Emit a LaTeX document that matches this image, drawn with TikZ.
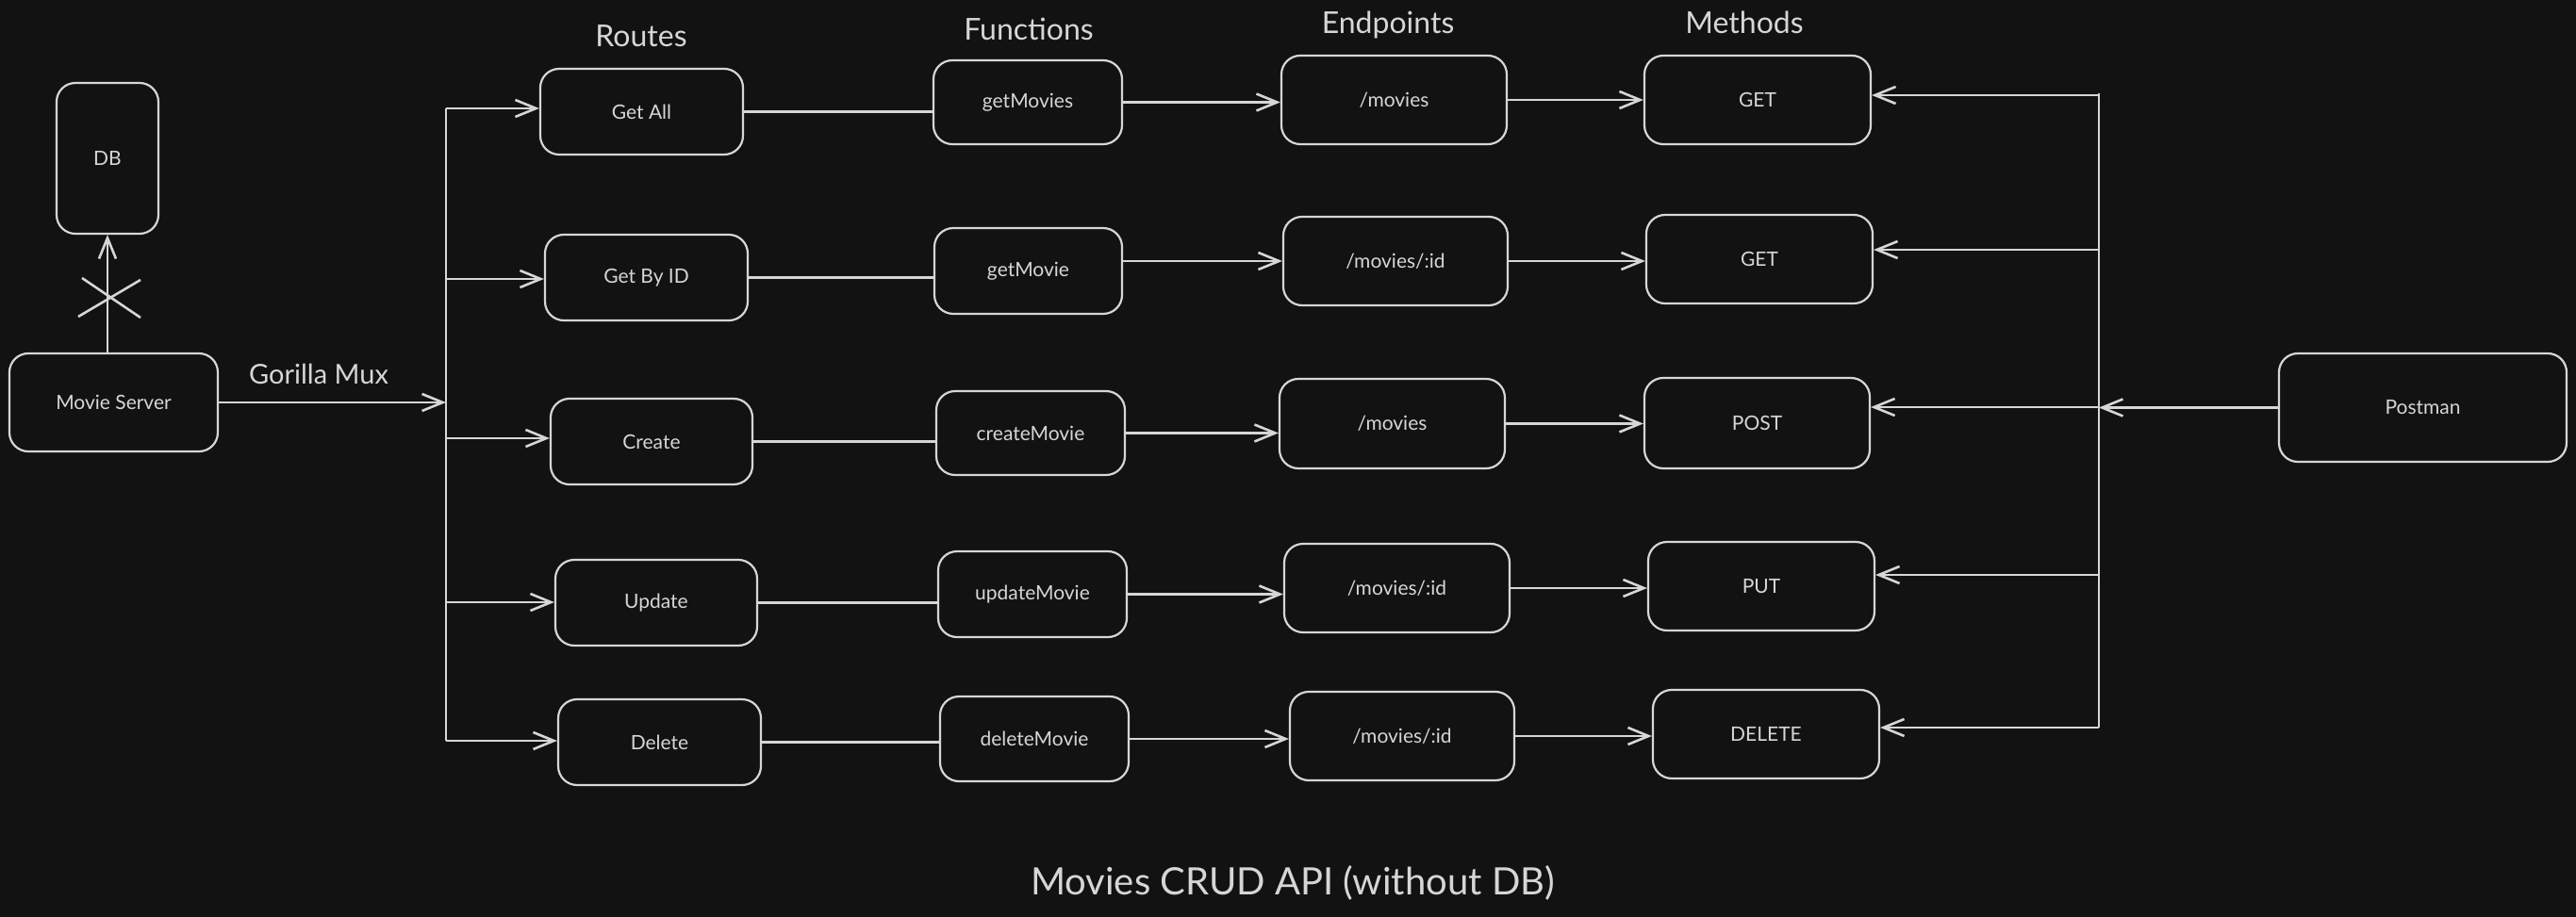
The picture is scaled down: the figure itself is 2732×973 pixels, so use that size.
\documentclass[tikz,border=0pt]{standalone}
\usepackage{fontspec}
\setmainfont{Lato}
\usetikzlibrary{arrows.meta,fit}
\definecolor{bgc}{HTML}{121212}
\definecolor{fgc}{HTML}{D6D6D6}
\tikzset{
  box/.style={draw=fgc, fill=bgc, line width=1.1pt, rounded corners=10pt, inner sep=0pt},
  lbl/.style={text=fgc, font=\fontsize{10.5}{12}\selectfont, inner sep=0pt},
  conn/.style={draw=fgc, line width=1.3pt},
  arr/.style={conn, -{Straight Barb[length=11pt,width=9pt]}},
  ttl/.style={text=fgc, font=\fontsize{16}{18}\selectfont},
}
\newcommand{\bx}[4]{\node[box, fit={#2}] (#1) {}; \node[lbl,#4] (#1t) at (#1.center) {#3};}
\begin{document}
\begin{tikzpicture}[x=0.5pt,y=-0.5pt]
\fill[bgc] (0,0) rectangle (2732,973);
\useasboundingbox (0,0) rectangle (2732,973);
% titles
\node[ttl] (tr) at (680,38) {Routes};
\node[ttl] (tf) at (1091,31) {Functions};
\node[ttl] (te) at (1472,26) {Endpoints};
\node[ttl] (tm) at (1850,24) {Methods};
\node[text=fgc, font=\fontsize{20}{24}\selectfont] (foot) at (1371,937) {Movies CRUD API (without DB)};
% left nodes
\bx{db}{(60,88)(168,248)}{DB}{}
\bx{ms}{(10,375)(231,479)}{Movie Server}{font=\fontsize{10.5}{12}\selectfont}
% routes
\bx{r1}{(573,73)(788,164)}{Get All}{}
\bx{r2}{(578,249)(793,340)}{Get By ID}{}
\bx{r3}{(584,423)(798,514)}{Create}{}
\bx{r4}{(589,594)(803,685)}{Update}{}
\bx{r5}{(592,742)(807,833)}{Delete}{}
% functions
\bx{f1}{(990,64)(1190,153)}{getMovies}{}
\bx{f2}{(991,242)(1190,333)}{getMovie}{}
\bx{f3}{(993,415)(1193,504)}{createMovie}{}
\bx{f4}{(995,585)(1195,676)}{updateMovie}{}
\bx{f5}{(997,739)(1197,829)}{deleteMovie}{}
% endpoints
\bx{e1}{(1359,59)(1598,153)}{/movies}{}
\bx{e2}{(1361,230)(1599,324)}{/movies/:id}{}
\bx{e3}{(1357,402)(1596,497)}{/movies}{}
\bx{e4}{(1362,577)(1601,671)}{/movies/:id}{}
\bx{e5}{(1368,734)(1606,828)}{/movies/:id}{}
% methods
\bx{m1}{(1744,59)(1984,153)}{GET}{}
\bx{m2}{(1746,228)(1986,322)}{GET}{}
\bx{m3}{(1744,401)(1983,497)}{POST}{}
\bx{m4}{(1748,575)(1988,669)}{PUT}{}
\bx{m5}{(1753,732)(1993,826)}{DELETE}{}
% postman
\bx{pm}{(2417,375)(2722,490)}{Postman}{}
% DB link with cross
\coordinate (x1a) at (87,295); \coordinate (x1b) at (149,337);
\coordinate (x2a) at (83,336); \coordinate (x2b) at (149,297);
\draw[arr] (ms.north -| db.south) -- (db.south);
\draw[conn] (x1a) -- (x1b);
\draw[conn] (x2a) -- (x2b);
% left bus
\coordinate (lbt) at (473,115);
\coordinate (lb2) at (473,296);
\coordinate (lb3) at (473,465);
\coordinate (lb4) at (473,639);
\coordinate (lbb) at (473,786);
\coordinate (lbm) at (473,428);
\draw[conn] (lbt) -- (lbb);
\draw[arr] (ms.east) -- (ms.east -| lbm);
\node[text=fgc, font=\fontsize{14.5}{16}\selectfont] (gm) at (338,397) {Gorilla Mux};
\draw[arr] (lbt) -- (lbt -| r1.west);
\draw[arr] (lb2) -- (lb2 -| r2.west);
\draw[arr] (lb3) -- (lb3 -| r3.west);
\draw[arr] (lb4) -- (lb4 -| r4.west);
\draw[arr] (lbb) -- (lbb -| r5.west);
% routes -> functions
\draw[conn] (r1.east) -- (r1.east -| f1.west);
\draw[conn] (r2.east) -- (r2.east -| f2.west);
\draw[conn] (r3.east) -- (r3.east -| f3.west);
\draw[conn] (r4.east) -- (r4.east -| f4.west);
\draw[conn] (r5.east) -- (r5.east -| f5.west);
% functions -> endpoints
\draw[arr] (f1.east) -- (f1.east -| e1.west);
\draw[arr] (e2.west -| f2.east) -- (e2.west);
\draw[arr] (f3.east) -- (f3.east -| e3.west);
\draw[arr] (f4.east) -- (f4.east -| e4.west);
\draw[arr] (f5.east) -- (f5.east -| e5.west);
% endpoints -> methods
\draw[arr] (e1.east) -- (e1.east -| m1.west);
\draw[arr] (e2.east) -- (e2.east -| m2.west);
\draw[arr] (e3.east) -- (e3.east -| m3.west);
\draw[arr] (e4.east) -- (e4.east -| m4.west);
\draw[arr] (e5.east) -- (e5.east -| m5.west);
% right bus
\coordinate (rbt) at (2226,99);
\coordinate (rb1) at (2226,101);
\coordinate (rb2) at (2226,265);
\coordinate (rb3) at (2226,432);
\coordinate (rb4) at (2226,610);
\coordinate (rbb) at (2226,772);
\draw[conn] (rbt) -- (rbb);
\draw[arr] (rb1) -- (rb1 -| m1.east);
\draw[arr] (rb2) -- (rb2 -| m2.east);
\draw[arr] (rb3) -- (rb3 -| m3.east);
\draw[arr] (rb4) -- (rb4 -| m4.east);
\draw[arr] (rbb) -- (rbb -| m5.east);
\draw[arr] (pm.west) -- (pm.west -| rb3);
\end{tikzpicture}
\end{document}
